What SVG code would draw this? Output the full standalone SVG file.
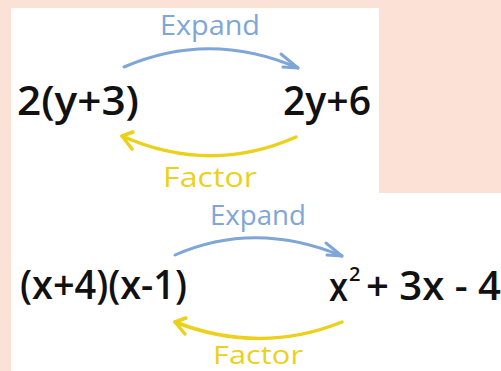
<svg xmlns="http://www.w3.org/2000/svg" width="501" height="371" viewBox="0 0 501 371">
<style>
.math{font-family:"Open Sans","DejaVu Sans",sans-serif;font-weight:600;fill:#111;}
.lbl{font-family:"Open Sans","DejaVu Sans",sans-serif;font-weight:400;}
.exp{fill:#7ea6d6;}
.fac{fill:#ecd11c;}
.ae{fill:none;stroke:#7ea6d6;stroke-width:3;stroke-linecap:round;stroke-linejoin:round;}
.af{fill:none;stroke:#ecd11c;stroke-width:3.5;stroke-linecap:round;stroke-linejoin:round;}
</style>
<rect x="0" y="0" width="501" height="371" fill="#fce2d6"/>
<rect x="11" y="8" width="368" height="186" fill="#ffffff"/>
<rect x="11" y="193" width="490" height="178" fill="#ffffff"/>

<g id="n-2y3"><text class="math" x="17" y="115" font-size="40" textLength="122" lengthAdjust="spacingAndGlyphs">2(y+3)</text></g>
<g id="n-2y6"><text class="math" x="283" y="115" font-size="40" textLength="88" lengthAdjust="spacingAndGlyphs">2y+6</text></g>
<g id="n-expand1"><text class="lbl exp" x="160" y="35" font-size="28" textLength="100" lengthAdjust="spacingAndGlyphs">Expand</text></g>
<g id="n-factor1"><text class="lbl fac" x="163" y="187" font-size="28" textLength="94" lengthAdjust="spacingAndGlyphs">Factor</text></g>

<g id="n-x4x1"><text class="math" x="20" y="299" font-size="40" textLength="167" lengthAdjust="spacingAndGlyphs">(x+4)(x-1)</text></g>
<g id="n-quad"><text class="math" x="329" y="301" font-size="40"><tspan textLength="19" lengthAdjust="spacingAndGlyphs">x</tspan><tspan x="349" y="281" font-size="20">2</tspan><tspan x="366" y="300" textLength="135" lengthAdjust="spacingAndGlyphs">+ 3x - 4</tspan></text></g>
<g id="n-expand2"><text class="lbl exp" x="210" y="225" font-size="28" textLength="96" lengthAdjust="spacingAndGlyphs">Expand</text></g>
<g id="n-factor2"><text class="lbl fac" x="213" y="364" font-size="26" textLength="90" lengthAdjust="spacingAndGlyphs">Factor</text></g>

<g id="connectors">
<path class="ae" d="M124 67 Q210 30 298 68"/>
<path class="ae" d="M281 54 L298 68 L283 67"/>
<path class="af" d="M296 137 Q210 175 122 136"/>
<path class="af" d="M133 132 L122 136 L132 149"/>
<path class="ae" d="M175 255 Q255 220 342 256"/>
<path class="ae" d="M326 243 L342 256 L327 255"/>
<path class="af" d="M342 322 Q260 355 175 322"/>
<path class="af" d="M186 318 L175 322 L185 334"/>
</g>
</svg>
